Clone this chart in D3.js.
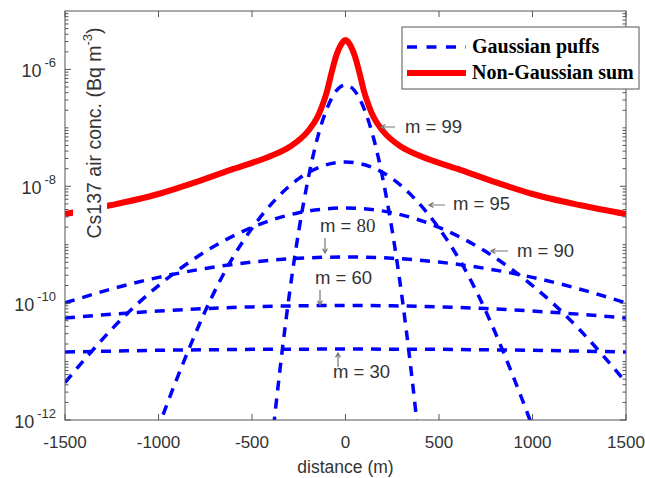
<!doctype html>
<html>
<head>
<title>Gaussian puffs vs non-Gaussian sum</title>
<script src="https://d3js.org/d3.v7.min.js"></script>
<style>
body { margin: 0; background: #fff; }
.axis text { font: 17px "Liberation Sans", Arial, sans-serif; fill: #333; }
.note { font: 18.5px "Liberation Sans", Arial, sans-serif; fill: #333; }
.xlab { font: 17.5px "Liberation Sans", Arial, sans-serif; fill: #333; }
.ylab { font: 19.5px "Liberation Sans", Arial, sans-serif; fill: #333; }
.legend text { font: bold 20px "Liberation Serif", "Times New Roman", serif; fill: #000; }
</style>
</head>
<body>
<svg width="645" height="478"></svg>
<script>

// x ticks and y tick exponents
var xTicks = [-1500, -1000, -500, 0, 500, 1000, 1500];
var yTickExp = [-12, -10, -8, -6];

// puffs sampled on a common grid (Bq m^-3)
var gridX = [-1500, -1250, -1000, -750, -500, -250, 0, 250, 500, 750, 1000, 1250, 1500];
var m30 = [1.46e-11, 1.51e-11, 1.56e-11, 1.59e-11, 1.62e-11, 1.63e-11, 1.64e-11, 1.63e-11, 1.62e-11, 1.59e-11, 1.56e-11, 1.51e-11, 1.46e-11];
var m60 = [5.57e-11, 6.47e-11, 7.31e-11, 8.07e-11, 8.63e-11, 9.01e-11, 9.11e-11, 9.01e-11, 8.63e-11, 8.07e-11, 7.31e-11, 6.47e-11, 5.57e-11];
var m80 = [1.01e-10, 1.75e-10, 2.76e-10, 3.92e-10, 5.04e-10, 5.86e-10, 6.16e-10, 5.86e-10, 5.04e-10, 3.92e-10, 2.76e-10, 1.75e-10, 1.01e-10];
var m90 = [4.38e-12, 3.58e-11, 2.00e-10, 7.62e-10, 1.98e-9, 3.52e-9, 4.25e-9, 3.52e-9, 1.98e-9, 7.62e-10, 2.00e-10, 3.58e-11, 4.38e-12];

// narrower puffs
var m95X = [-1100, -1000, -750, -500, -250, 0, 250, 500, 750, 1000, 1100];
var m95 = [8.45e-14, 7.59e-13, 7.31e-11, 1.91e-9, 1.35e-8, 2.60e-8, 1.35e-8, 1.91e-9, 7.31e-11, 7.59e-13, 8.45e-14];
var m99X = [-450, -400, -350, -300, -250, -200, -150, -100, -50, 0, 50, 100, 150, 200, 250, 300, 350, 400, 450];
var m99 = [5.51e-15, 2.52e-13, 7.46e-12, 1.43e-10, 1.72e-9, 1.33e-8, 6.71e-8, 2.10e-7, 4.27e-7, 5.41e-7, 4.27e-7, 2.10e-7, 6.71e-8, 1.33e-8, 1.72e-9, 1.43e-10, 7.46e-12, 2.52e-13, 5.51e-15];

// non-Gaussian sum
var sumX = [-1500, -1250, -1000, -800, -600, -400, -300, -200, -150, -125, -100, -75, -50, -25, 0, 25, 50, 75, 100, 125, 150, 200, 300, 400, 600, 800, 1000, 1250, 1500];
var sumY = [3.35e-9, 4.78e-9, 7.38e-9, 1.18e-8, 1.98e-8, 3.30e-8, 4.70e-8, 8.83e-8, 1.53e-7, 2.37e-7, 4.11e-7, 8.69e-7, 1.70e-6, 2.62e-6, 3.19e-6, 2.62e-6, 1.70e-6, 8.69e-7, 4.11e-7, 2.37e-7, 1.53e-7, 8.83e-8, 4.70e-8, 3.30e-8, 1.98e-8, 1.18e-8, 7.38e-9, 4.78e-9, 3.35e-9];

var puffs = [
  {xs: gridX, ys: m30},
  {xs: gridX, ys: m60},
  {xs: gridX, ys: m80},
  {xs: gridX, ys: m90},
  {xs: m95X, ys: m95},
  {xs: m99X, ys: m99}
];

var svg = d3.select("svg"),
    margin = {top: 11, right: 19, bottom: 58, left: 65},
    width = +svg.attr("width") - margin.left - margin.right,
    height = +svg.attr("height") - margin.top - margin.bottom;

var x = d3.scaleLinear().domain([-1500, 1500]).range([0, width]),
    y = d3.scaleLog().domain([1e-12, 1e-5]).range([height, 0]);

var g = svg.append("g")
    .attr("transform", "translate(" + margin.left + "," + margin.top + ")");

g.append("clipPath").attr("id", "plot")
  .append("rect").attr("width", width).attr("height", height);

var line = d3.line()
    .x(function(d) { return x(d[0]); })
    .y(function(d) { return y(d[1]); });

var curves = g.append("g").attr("clip-path", "url(#plot)");

puffs.forEach(function(p) {
  curves.append("path")
      .datum(d3.zip(p.xs, p.ys))
      .attr("fill", "none")
      .attr("stroke", "#0000ff")
      .attr("stroke-width", 3.5)
      .attr("stroke-dasharray", "10,8")
      .attr("d", line.curve(d3.curveNatural));
});

curves.append("path")
    .datum(d3.zip(sumX, sumY))
    .attr("fill", "none")
    .attr("stroke", "#ff0000")
    .attr("stroke-width", 6)
    .attr("d", line.curve(d3.curveMonotoneX));

// frame and ticks (inward, box on)
var tickCol = "#555";
g.append("rect")
    .attr("width", width).attr("height", height)
    .attr("fill", "none").attr("stroke", tickCol).attr("stroke-width", 1);

var xa = g.append("g").attr("class", "axis");
xTicks.forEach(function(t) {
  xa.append("line").attr("x1", x(t)).attr("x2", x(t)).attr("y1", height).attr("y2", height - 6).attr("stroke", tickCol);
  xa.append("line").attr("x1", x(t)).attr("x2", x(t)).attr("y1", 0).attr("y2", 6).attr("stroke", tickCol);
  xa.append("text").attr("x", x(t)).attr("y", height + 28).attr("text-anchor", "middle").text(t);
});

var ya = g.append("g").attr("class", "axis");
d3.range(-12, -5).forEach(function(e) {
  for (var k = 1; k < 10; k++) {
    var v = k * Math.pow(10, e), len = (k == 1 && yTickExp.indexOf(e) >= 0) ? 6 : 3.5;
    ya.append("line").attr("x1", 0).attr("x2", len).attr("y1", y(v)).attr("y2", y(v)).attr("stroke", tickCol);
    ya.append("line").attr("x1", width).attr("x2", width - len).attr("y1", y(v)).attr("y2", y(v)).attr("stroke", tickCol);
  }
});
yTickExp.forEach(function(e) {
  var t = ya.append("text").attr("x", -9).attr("y", y(Math.pow(10, e)) + 8).attr("text-anchor", "end")
      .style("font-size", "18px");
  t.append("tspan").text("10");
  t.append("tspan").attr("dx", 3).attr("dy", -10).style("font-size", "13px").text(e);
});

svg.append("text").attr("class", "xlab")
    .attr("x", margin.left + width / 2).attr("y", 473)
    .attr("text-anchor", "middle").text("distance (m)");

// y label sits on a white box
var yl = svg.append("g").attr("transform", "translate(101,133) rotate(-90)");
var ylt = yl.append("text").attr("class", "ylab").attr("text-anchor", "middle");
ylt.append("tspan").text("Cs137 air conc. (Bq m");
ylt.append("tspan").attr("dy", -9).style("font-size", "13px").text("-3");
ylt.append("tspan").attr("dy", 9).text(")");
var bb = ylt.node().getBBox();
yl.insert("rect", "text")
    .attr("x", bb.x - 2).attr("y", -28).attr("width", bb.width + 4).attr("height", 34)
    .attr("fill", "#fff");

// annotations
function arrow(x1, y1, x2, y2) {
  var a = Math.atan2(y2 - y1, x2 - x1), h = 5;
  var p = d3.path();
  p.moveTo(x1, y1); p.lineTo(x2, y2);
  p.moveTo(x2 - h * Math.cos(a - 0.5), y2 - h * Math.sin(a - 0.5)); p.lineTo(x2, y2);
  p.lineTo(x2 - h * Math.cos(a + 0.5), y2 - h * Math.sin(a + 0.5));
  svg.append("path").attr("d", p.toString()).attr("fill", "none").attr("stroke", "#777").attr("stroke-width", 1.2);
}
function note(tx, ty, s) {
  return svg.append("text").attr("class", "note").attr("x", tx).attr("y", ty).text(s);
}

arrow(395, 127, 381, 127); note(405, 133, "m = 99");
arrow(445, 205, 429, 205); note(453, 210, "m = 95");
arrow(508, 251, 491, 251); note(517, 257, "m = 90");
var n80 = note(320, 232, "m = ");
n80.append("tspan").style("font-family", "'Liberation Serif', serif").style("font-size", "19px").text("80");
arrow(325, 238, 325, 253);
note(315, 284, "m = 60"); arrow(320, 290, 320, 305);
arrow(338, 367, 338, 353); note(333, 378, "m = 30");

// legend
var lg = svg.append("g").attr("class", "legend");
lg.append("rect").attr("x", 402).attr("y", 27).attr("width", 237).attr("height", 62)
    .attr("fill", "#fff").attr("stroke", "#555");
lg.append("line").attr("x1", 407).attr("x2", 466).attr("y1", 47).attr("y2", 47)
    .attr("stroke", "#0000ff").attr("stroke-width", 3.5).attr("stroke-dasharray", "10,9.5");
lg.append("line").attr("x1", 407).attr("x2", 466).attr("y1", 73).attr("y2", 73)
    .attr("stroke", "#ff0000").attr("stroke-width", 6);
lg.append("text").attr("x", 472).attr("y", 53).text("Gaussian puffs");
lg.append("text").attr("x", 472).attr("y", 79).text("Non-Gaussian sum");

</script>
</body>
</html>
